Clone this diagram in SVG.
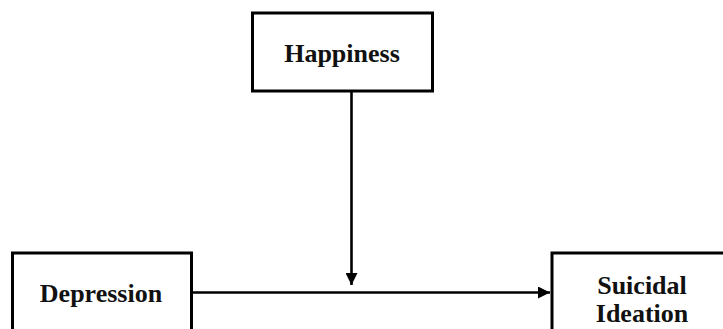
<svg xmlns="http://www.w3.org/2000/svg" width="723" height="329" viewBox="0 0 723 329">
<style>
.box{fill:#fff;stroke:#000;stroke-width:3}
.lbl{font-family:"Liberation Serif","Times New Roman",serif;font-weight:bold;font-size:26px;fill:#111;text-anchor:middle}
.conn{stroke:#000;stroke-width:2.6;fill:none}
</style>
<defs>
<marker id="ah" viewBox="0 0 12 12" refX="12" refY="6" markerWidth="12" markerHeight="12" markerUnits="userSpaceOnUse" orient="auto">
<path d="M0,0 L12,6 L0,12 Z" fill="#000"/>
</marker>
</defs>
<rect width="723" height="329" fill="#fff"/>
<g id="connectors">
<line class="conn" x1="192" y1="292.5" x2="550" y2="292.5" marker-end="url(#ah)"/>
<line class="conn" x1="351.5" y1="91" x2="351.5" y2="285" marker-end="url(#ah)"/>
</g>
<g id="happiness">
<rect class="box" x="252.5" y="13" width="180" height="78"/>
<text class="lbl" x="342" y="62">Happiness</text>
</g>
<g id="depression">
<rect class="box" x="12.5" y="253" width="179" height="90"/>
<text class="lbl" x="101" y="302">Depression</text>
</g>
<g id="suicidal">
<rect class="box" x="552" y="253" width="190" height="90"/>
<text class="lbl" x="642" y="294">Suicidal</text>
<text class="lbl" x="642" y="322">Ideation</text>
</g>
</svg>
